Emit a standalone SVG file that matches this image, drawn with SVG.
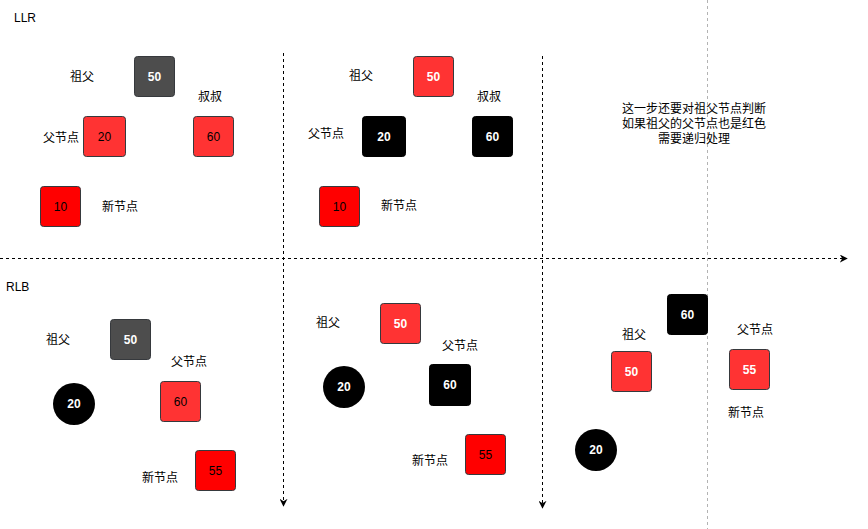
<svg xmlns="http://www.w3.org/2000/svg" width="868" height="529" viewBox="0 0 868 529">
<style>
text{font-family:"Liberation Sans","Noto Sans CJK SC",sans-serif;font-size:12px;fill:#000}
.lbl{text-anchor:middle;dominant-baseline:central}
.n{text-anchor:middle;dominant-baseline:central}
.w{fill:#fff;font-weight:bold}
.box{stroke:#36393d;stroke-width:1}
.g{fill:#4d4d4d}
.r{fill:#ff3333}
.rr{fill:#ff0000}
.b{fill:#000;stroke:#000}
.dash{stroke:#000;stroke-width:1;stroke-dasharray:3 3;fill:none}
.grey{stroke:#b3b3b3;stroke-width:1;stroke-dasharray:3 3;fill:none}
</style>
<defs>
<marker id="arr" viewBox="0 0 10 10" refX="9" refY="5" markerWidth="8" markerHeight="8" markerUnits="userSpaceOnUse" orient="auto">
<path d="M0,0 L10,5 L0,10 L3,5 Z" fill="#000"/>
</marker>
</defs>
<rect width="868" height="529" fill="#fff"/>
<g id="connectors">
<line class="grey" x1="707.5" y1="0" x2="707.5" y2="529"/>
<line class="dash" x1="0" y1="258.5" x2="847" y2="258.5" marker-end="url(#arr)"/>
<line class="dash" x1="283.5" y1="53" x2="283.5" y2="506" marker-end="url(#arr)"/>
<line class="dash" x1="542.5" y1="56" x2="542.5" y2="508" marker-end="url(#arr)"/>
</g>
<g id="titles">
<text x="14" y="22">LLR</text>
<text x="6" y="291">RLB</text>
</g>
<g id="llr1">
<g id="llr1-50"><rect class="box g" x="134.5" y="56.5" width="40" height="40" rx="3"/><text class="n w" x="154.5" y="76.5">50</text></g>
<g id="llr1-20"><rect class="box r" x="83.5" y="116.5" width="42" height="40" rx="3"/><text class="n" x="104.5" y="136.5">20</text></g>
<g id="llr1-60"><rect class="box r" x="193.5" y="116.5" width="40" height="40" rx="3"/><text class="n" x="213.5" y="136.5">60</text></g>
<g id="llr1-10"><rect class="box rr" x="40.5" y="186.5" width="40" height="40" rx="3"/><text class="n" x="60.5" y="206.5">10</text></g>
<text class="lbl" x="82" y="77">祖父</text>
<text class="lbl" x="210" y="97">叔叔</text>
<text class="lbl" x="61" y="138">父节点</text>
<text class="lbl" x="120" y="207">新节点</text>
</g>
<g id="llr2">
<g id="llr2-50"><rect class="box r" x="413.5" y="56.5" width="40" height="40" rx="3"/><text class="n w" x="433.5" y="76.5">50</text></g>
<g id="llr2-20"><rect class="box b" x="362.5" y="116.5" width="43" height="40" rx="3"/><text class="n w" x="384" y="136.5">20</text></g>
<g id="llr2-60"><rect class="box b" x="472.5" y="116.5" width="40" height="40" rx="3"/><text class="n w" x="492.5" y="136.5">60</text></g>
<g id="llr2-10"><rect class="box rr" x="319.5" y="186.5" width="40" height="40" rx="3"/><text class="n" x="339.5" y="206.5">10</text></g>
<text class="lbl" x="361" y="76">祖父</text>
<text class="lbl" x="489" y="97">叔叔</text>
<text class="lbl" x="326" y="134">父节点</text>
<text class="lbl" x="399" y="206">新节点</text>
</g>
<g id="note">
<text class="lbl" x="694" y="109">这一步还要对祖父节点判断</text>
<text class="lbl" x="694" y="124">如果祖父的父节点也是红色</text>
<text class="lbl" x="694" y="139">需要递归处理</text>
</g>
<g id="rlb1">
<g id="rlb1-50"><rect class="box g" x="110.5" y="319.5" width="40" height="40" rx="3"/><text class="n w" x="130.5" y="339.5">50</text></g>
<g id="rlb1-20"><circle cx="74" cy="404" r="21" fill="#000"/><text class="n w" x="74" y="404">20</text></g>
<g id="rlb1-60"><rect class="box r" x="160.5" y="381.5" width="40" height="40" rx="3"/><text class="n" x="180.5" y="401.5">60</text></g>
<g id="rlb1-55"><rect class="box rr" x="195.5" y="450.5" width="40" height="40" rx="3"/><text class="n" x="215.5" y="470.5">55</text></g>
<text class="lbl" x="58" y="340">祖父</text>
<text class="lbl" x="189" y="362">父节点</text>
<text class="lbl" x="160" y="478">新节点</text>
</g>
<g id="rlb2">
<g id="rlb2-50"><rect class="box r" x="380.5" y="303.5" width="40" height="40" rx="3"/><text class="n w" x="400.5" y="323.5">50</text></g>
<g id="rlb2-20"><circle cx="344" cy="387" r="21" fill="#000"/><text class="n w" x="344" y="387">20</text></g>
<g id="rlb2-60"><rect class="box b" x="429.5" y="364.5" width="41" height="41" rx="3"/><text class="n w" x="450" y="385">60</text></g>
<g id="rlb2-55"><rect class="box rr" x="465.5" y="434.5" width="40" height="40" rx="3"/><text class="n" x="485.5" y="454.5">55</text></g>
<text class="lbl" x="328" y="323">祖父</text>
<text class="lbl" x="460" y="346">父节点</text>
<text class="lbl" x="430" y="461">新节点</text>
</g>
<g id="rlb3">
<g id="rlb3-60"><rect class="box b" x="667.5" y="294.5" width="40" height="40" rx="3"/><text class="n w" x="687.5" y="314.5">60</text></g>
<g id="rlb3-50"><rect class="box r" x="611.5" y="351.5" width="40" height="40" rx="3"/><text class="n w" x="631.5" y="371.5">50</text></g>
<g id="rlb3-55"><rect class="box r" x="729.5" y="349.5" width="40" height="40" rx="3"/><text class="n w" x="749.5" y="369.5">55</text></g>
<g id="rlb3-20"><circle cx="596" cy="450" r="21" fill="#000"/><text class="n w" x="596" y="450">20</text></g>
<text class="lbl" x="634" y="335">祖父</text>
<text class="lbl" x="755" y="330">父节点</text>
<text class="lbl" x="746" y="413">新节点</text>
</g>
</svg>
